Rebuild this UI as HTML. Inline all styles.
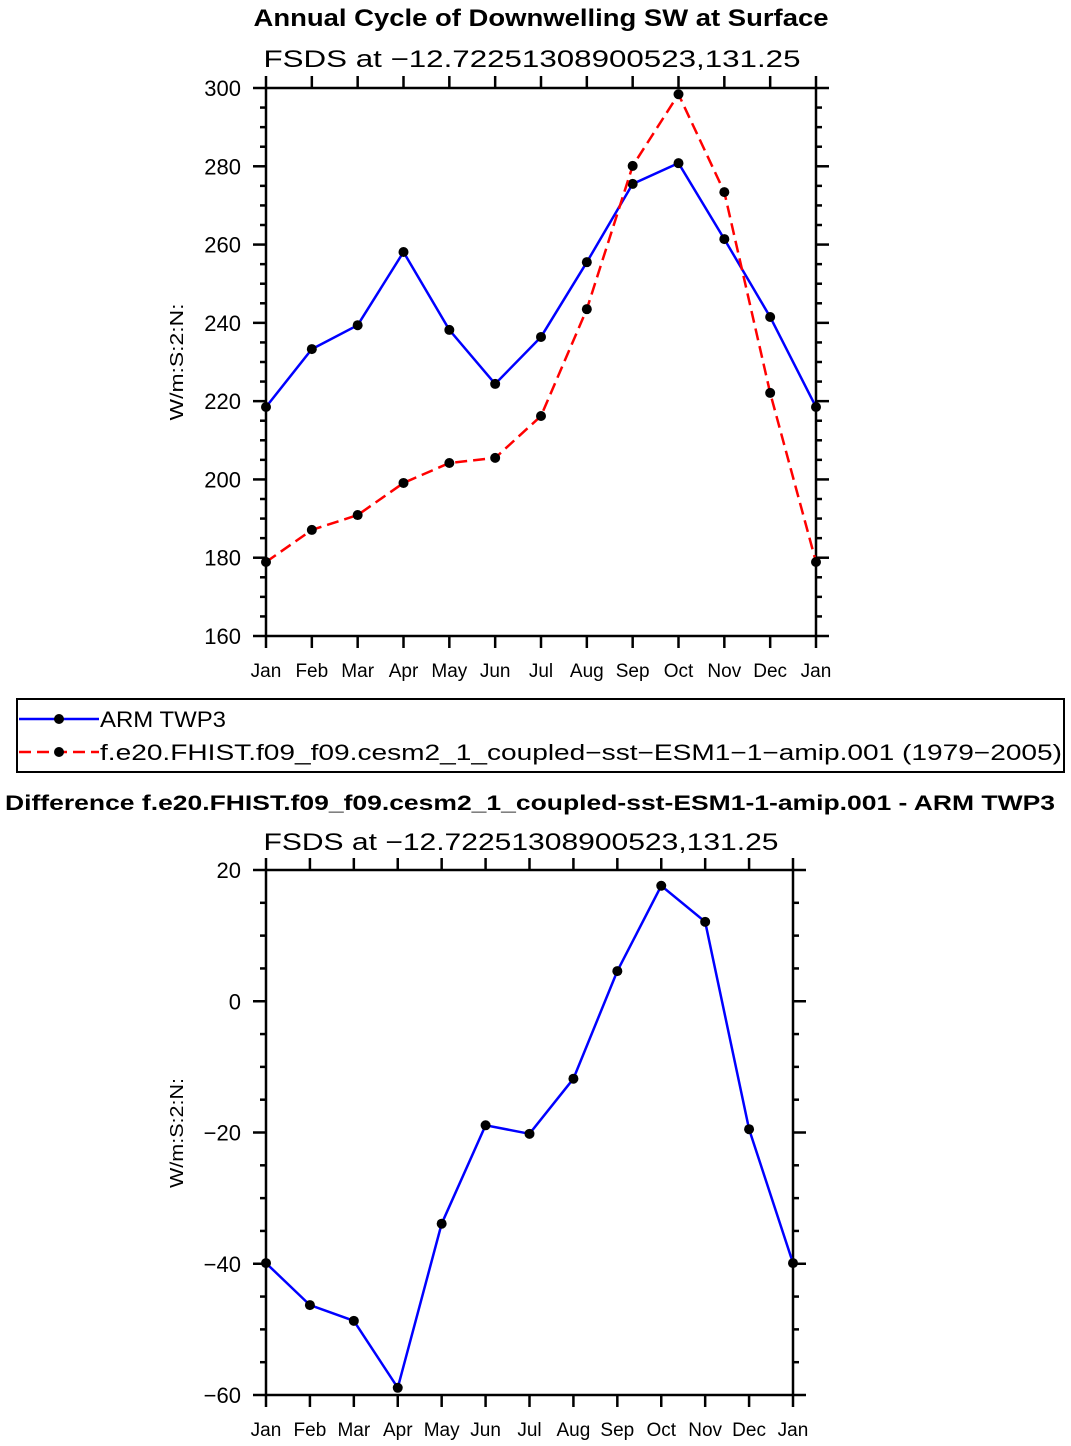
<!DOCTYPE html>
<html><head><meta charset="utf-8"><style>
html,body{margin:0;padding:0;background:#fff;}
svg{display:block;font-family:"Liberation Sans",sans-serif;}
</style></head><body>
<svg id="s" width="1071" height="1446" viewBox="0 0 1071 1446">
<text x="541" y="26" text-anchor="middle" font-size="24" font-weight="bold" textLength="575" lengthAdjust="spacingAndGlyphs">Annual Cycle of Downwelling SW at Surface</text>
<text x="532" y="67" text-anchor="middle" font-size="24" textLength="537" lengthAdjust="spacingAndGlyphs">FSDS at −12.72251308900523,131.25</text>
<text transform="translate(183,362) rotate(-90)" text-anchor="middle" font-size="18" textLength="117" lengthAdjust="spacingAndGlyphs">W/m:S:2:N:</text>
<g>
<rect x="17" y="699" width="1047" height="73" fill="none" stroke="#000" stroke-width="2"/>
<line x1="19" y1="719" x2="99" y2="719" stroke="#0000ff" stroke-width="2.5"/>
<circle cx="59" cy="719" r="5"/>
<text x="100" y="727" font-size="22" textLength="126" lengthAdjust="spacingAndGlyphs">ARM  TWP3</text>
<line x1="19" y1="752" x2="99" y2="752" stroke="#ff0000" stroke-width="2.5" stroke-dasharray="12,6"/>
<circle cx="59" cy="752" r="5"/>
<text x="100" y="760" font-size="22" textLength="962" lengthAdjust="spacingAndGlyphs">f.e20.FHIST.f09_f09.cesm2_1_coupled−sst−ESM1−1−amip.001 (1979−2005)</text>
</g>
<text x="530" y="810" text-anchor="middle" font-size="21" font-weight="bold" textLength="1050" lengthAdjust="spacingAndGlyphs">Difference f.e20.FHIST.f09_f09.cesm2_1_coupled-sst-ESM1-1-amip.001 - ARM TWP3</text>
<text x="521" y="850" text-anchor="middle" font-size="24" textLength="515" lengthAdjust="spacingAndGlyphs">FSDS at −12.72251308900523,131.25</text>
<text transform="translate(183,1133) rotate(-90)" text-anchor="middle" font-size="18" textLength="110" lengthAdjust="spacingAndGlyphs">W/m:S:2:N:</text>
</svg>
<script>
const months=["Jan","Feb","Mar","Apr","May","Jun","Jul","Aug","Sep","Oct","Nov","Dec","Jan"];
const armValues=[218.5,233.3,239.4,258.1,238.2,224.4,236.4,255.5,275.5,280.8,261.4,241.5,218.5];
const modelValues=[178.9,187.1,190.9,199.1,204.2,205.5,216.2,243.5,280.1,298.4,273.4,222.1,178.9];
const diffValues=[-39.9,-46.3,-48.7,-58.9,-33.9,-18.9,-20.2,-11.8,4.6,17.6,12.1,-19.5,-39.9];
const topTicks=[160,180,200,220,240,260,280,300];
const botTicks=[-60,-40,-20,0,20];
const NS="http://www.w3.org/2000/svg";
const svg=document.getElementById('s');
function mk(tag,attrs,parent){const e=document.createElementNS(NS,tag);for(const k in attrs)e.setAttribute(k,attrs[k]);(parent||svg).appendChild(e);return e;}
function panel(p){
  const g=mk('g',{});
  
  
  const X=i=>p.x0+(p.x1-p.x0)*i/(months.length-1);
  const Y=v=>p.y1-(v-p.vmin)/(p.vmax-p.vmin)*(p.y1-p.y0);
  const fr=mk('rect',{x:p.x0,y:p.y0,width:p.x1-p.x0,height:p.y1-p.y0,fill:'none',stroke:'#000','stroke-width':2.5},g);
  
  
  const minorStep=p.minor;
  for(let v=p.vmin;v<=p.vmax+1e-6;v+=minorStep){
    const major=p.ticks.some(t=>Math.abs(t-v)<1e-6);
    const L=major?13:6;
    mk('line',{x1:p.x0-L,y1:Y(v),x2:p.x0,y2:Y(v),stroke:'#000','stroke-width':2.5},g);
    mk('line',{x1:p.x1,y1:Y(v),x2:p.x1+L,y2:Y(v),stroke:'#000','stroke-width':2.5},g);
  }
  p.ticks.forEach(t=>{
    const tx=mk('text',{x:p.x0-25,y:Y(t)+8,'text-anchor':'end','font-size':22},g);
    tx.textContent=t<0?'−'+(-t):String(t);
    
    
  });
  months.forEach((m,i)=>{
    mk('line',{x1:X(i),y1:p.y1,x2:X(i),y2:p.y1+12,stroke:'#000','stroke-width':2.5},g);
    mk('line',{x1:X(i),y1:p.y0-12,x2:X(i),y2:p.y0,stroke:'#000','stroke-width':2.5},g);
    const tx=mk('text',{x:X(i),y:p.y1+41,'text-anchor':'middle','font-size':19},g);
    tx.textContent=m;
    
    
  });
  p.series.forEach(s=>{
    const pl=mk('polyline',{points:s.vals.map((v,i)=>X(i)+','+Y(v)).join(' '),fill:'none',stroke:s.color,'stroke-width':2.5,'stroke-dasharray':s.dash||'none'},g);
    
    
    s.vals.forEach((v,i)=>{
      const c=mk('circle',{cx:X(i),cy:Y(v),r:5,fill:'#000'},g);
      
      
    });
  });
}
panel({name:'top-chart',x0:266,x1:816,y0:88,y1:636,vmin:160,vmax:300,ticks:topTicks,minor:5,
  series:[{name:'arm-twp3',vals:armValues,color:'#0000ff'},{name:'model',vals:modelValues,color:'#ff0000',dash:'12,6'}]});
panel({name:'bottom-chart',x0:266,x1:793,y0:870,y1:1395,vmin:-60,vmax:20,ticks:botTicks,minor:5,
  series:[{name:'difference',vals:diffValues,color:'#0000ff'}]});
</script>
</body></html>
